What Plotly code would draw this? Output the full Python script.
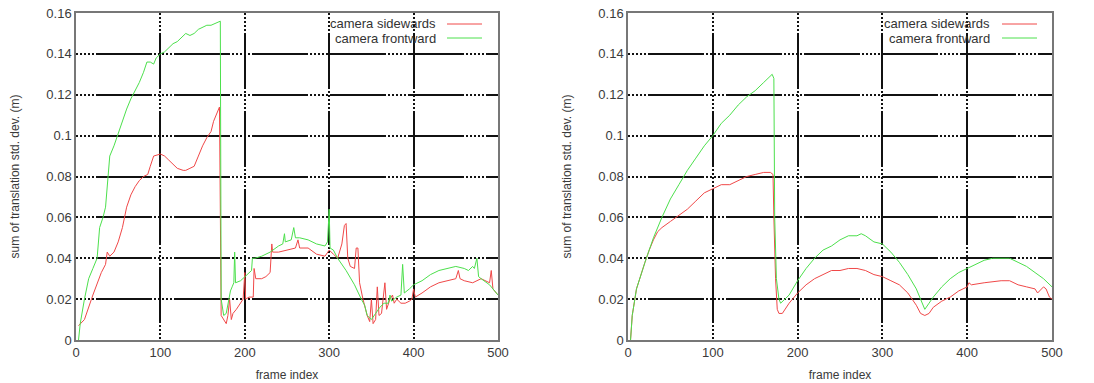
import plotly.graph_objects as go

# ---- left panel ----
l_side_x = [3,10,20,30,35,37,40,45,50,55,60,65,70,75,80,85,88,92,100,105,110,115,120,127,130,135,140,145,150,155,160,163,166,170,
            172,175,178,180,182,184,186,190,195,198,200,201,205,210,211,213,220,225,230,232,233,240,250,260,263,265,275,285,295,300,
            305,310,315,318,320,322,325,330,332,334,336,340,345,348,350,352,355,357,359,362,366,368,372,375,377,380,385,390,395,398,
            400,402,410,420,430,440,450,453,455,460,470,480,485,490,492,494,500]
l_side_y = [0.007,0.010,0.022,0.033,0.037,0.043,0.041,0.043,0.048,0.055,0.065,0.071,0.075,0.078,0.080,0.081,0.085,0.090,0.091,0.090,0.088,0.086,0.084,0.083,0.083,0.084,0.085,0.090,0.095,0.099,0.102,0.107,0.110,0.114,
            0.012,0.010,0.008,0.012,0.020,0.010,0.013,0.015,0.018,0.020,0.033,0.020,0.021,0.021,0.035,0.030,0.030,0.031,0.033,0.047,0.043,0.043,0.044,0.045,0.049,0.045,0.045,0.042,0.041,0.044,
            0.042,0.040,0.047,0.056,0.057,0.040,0.036,0.035,0.045,0.045,0.028,0.020,0.012,0.009,0.020,0.008,0.010,0.026,0.012,0.013,0.028,0.015,0.020,0.022,0.018,0.020,0.018,0.018,0.019,0.020,
            0.025,0.021,0.023,0.026,0.028,0.029,0.030,0.034,0.030,0.029,0.028,0.030,0.029,0.028,0.034,0.025,0.022]

l_front_x = [3,5,10,15,20,25,28,32,35,38,40,45,50,55,60,65,70,75,80,84,88,92,95,100,105,110,115,120,125,130,135,140,145,150,155,160,165,170,171,
             172,175,178,181,183,185,187,188,189,195,200,205,208,209,212,220,230,240,245,247,248,255,258,260,265,275,285,295,298,300,301,
             305,310,320,330,338,342,345,350,355,360,365,370,372,374,380,385,387,389,395,400,410,420,430,440,450,460,465,470,472,475,477,480,490,500]
l_front_y = [0.000,0.008,0.020,0.030,0.035,0.040,0.055,0.060,0.065,0.080,0.090,0.095,0.101,0.108,0.113,0.118,0.122,0.126,0.131,0.136,0.136,0.135,0.138,0.140,0.141,0.143,0.145,0.146,0.148,0.150,0.149,0.150,0.152,0.153,0.154,0.154,0.155,0.156,0.156,
             0.020,0.012,0.013,0.020,0.024,0.026,0.028,0.043,0.028,0.029,0.031,0.033,0.034,0.040,0.040,0.041,0.043,0.046,0.047,0.052,0.048,0.049,0.055,0.050,0.050,0.049,0.047,0.046,0.048,0.064,0.045,
             0.044,0.040,0.034,0.027,0.020,0.017,0.012,0.010,0.013,0.016,0.018,0.018,0.022,0.019,0.021,0.022,0.037,0.023,0.025,0.027,0.029,0.032,0.034,0.035,0.036,0.035,0.034,0.036,0.035,0.040,0.031,0.030,0.027,0.022]

# ---- right panel ----
r_side_x = [3,5,10,15,20,25,30,35,40,50,60,70,80,90,100,110,120,125,130,140,150,160,168,171,172,174,176,178,182,185,190,200,210,220,230,240,250,260,270,
            280,290,300,310,320,330,340,345,350,355,360,370,380,390,400,402,405,420,440,450,460,470,480,483,490,493,497,500]
r_side_y = [0.000,0.012,0.025,0.032,0.038,0.044,0.049,0.053,0.055,0.058,0.061,0.064,0.068,0.072,0.074,0.076,0.076,0.077,0.078,0.080,0.081,0.082,0.082,0.081,0.060,0.030,0.015,0.013,0.013,0.015,0.018,0.023,0.027,0.030,0.032,0.034,0.034,0.035,0.035,
            0.034,0.032,0.031,0.029,0.027,0.023,0.017,0.013,0.012,0.013,0.016,0.019,0.021,0.024,0.026,0.028,0.027,0.028,0.029,0.029,0.027,0.026,0.025,0.023,0.026,0.025,0.021,0.020]

r_front_x = [3,5,10,15,20,25,30,40,50,60,70,80,90,100,110,120,130,140,150,160,170,172,173,175,178,180,185,190,200,210,220,230,240,250,260,270,275,280,290,
             300,310,320,330,340,345,350,355,360,370,380,390,400,410,420,430,440,450,460,470,480,490,500]
r_front_y = [0.000,0.012,0.025,0.032,0.038,0.044,0.050,0.060,0.069,0.076,0.083,0.089,0.095,0.100,0.106,0.110,0.115,0.119,0.122,0.126,0.130,0.128,0.060,0.030,0.020,0.018,0.020,0.022,0.029,0.035,0.040,0.044,0.046,0.049,0.051,0.051,0.052,0.051,0.048,
             0.047,0.043,0.038,0.032,0.025,0.020,0.015,0.018,0.021,0.026,0.030,0.033,0.035,0.037,0.039,0.040,0.040,0.040,0.038,0.036,0.033,0.030,0.026]

x_ticks = [0, 100, 200, 300, 400, 500]
y_ticks = [0, 0.02, 0.04, 0.06, 0.08, 0.1, 0.12, 0.14, 0.16]
y_tick_text = ["0", "0.02", "0.04", "0.06", "0.08", "0.1", "0.12", "0.14", "0.16"]
series_names = ["camera sidewards", "camera frontward"]

RED = "#f04848"
GREEN = "#4ce04c"
FONT = "Liberation Sans, Arial, sans-serif"
TXT = "#3a3a3a"

fig = go.Figure()
panels = [(l_side_x, l_side_y, l_front_x, l_front_y, "x", "y"),
          (r_side_x, r_side_y, r_front_x, r_front_y, "x2", "y2")]
for sx, sy, fx, fy, xa, ya in panels:
    fig.add_trace(go.Scatter(x=sx, y=sy, mode="lines", name=series_names[0],
                             line=dict(color=RED, width=1), xaxis=xa, yaxis=ya, showlegend=False))
    fig.add_trace(go.Scatter(x=fx, y=fy, mode="lines", name=series_names[1],
                             line=dict(color=GREEN, width=1), xaxis=xa, yaxis=ya, showlegend=False))

W, H = 1094, 383
doms = [(76 / W, 498 / W), (628 / W, 1052 / W)]
ydom = (1 - 340 / H, 1 - 13 / H)

grid_dash = ",".join(["2px,2px"] * 5 + ["56px,2px"])
axis_common = dict(showline=True, linecolor="#777777", linewidth=1.5, mirror=True,
                   showgrid=True, gridcolor="#111111", gridwidth=1.5, griddash=grid_dash,
                   zeroline=False, ticks="", tickfont=dict(family=FONT, size=13, color=TXT))

layout = dict(width=W, height=H, margin=dict(l=0, r=0, t=0, b=0, autoexpand=False),
              paper_bgcolor="white", plot_bgcolor="white", showlegend=False)
for i, (d, xa, ya) in enumerate(zip(doms, ["xaxis", "xaxis2"], ["yaxis", "yaxis2"])):
    anchor_x = "y" if i == 0 else "y2"
    anchor_y = "x" if i == 0 else "x2"
    layout[xa] = dict(axis_common, domain=list(d), range=[0, 500], tickvals=x_ticks, anchor=anchor_x,
                      title=dict(text="frame index", font=dict(family=FONT, size=12, color=TXT), standoff=11))
    layout[ya] = dict(axis_common, domain=list(ydom), range=[0, 0.16], tickvals=y_ticks, ticktext=y_tick_text,
                      anchor=anchor_y,
                      title=dict(text="sum of translation std. dev. (m)", font=dict(family=FONT, size=12, color=TXT), standoff=24))
fig.update_layout(**layout)

# legend drawn gnuplot-style: right-aligned text followed by a line sample
legend_pos = [(438, 447, 482), (992, 1002, 1037)]
for tx, l0, l1 in legend_pos:
    for k, (name, col) in enumerate(zip(series_names, [RED, GREEN])):
        ypx = 24 + 14 * k
        fig.add_annotation(x=tx / W, y=1 - ypx / H, xref="paper", yref="paper", text=name,
                           showarrow=False, xanchor="right", yanchor="middle",
                           font=dict(family=FONT, size=13, color="#333333"))
        fig.add_shape(type="line", xref="paper", yref="paper", x0=l0 / W, x1=l1 / W,
                      y0=1 - ypx / H, y1=1 - ypx / H, line=dict(color=col, width=1))

fig.write_html("out.html", config={"responsive": False, "displayModeBar": False},
               post_script="document.body.style.margin='0';document.body.style.overflow='hidden';")
